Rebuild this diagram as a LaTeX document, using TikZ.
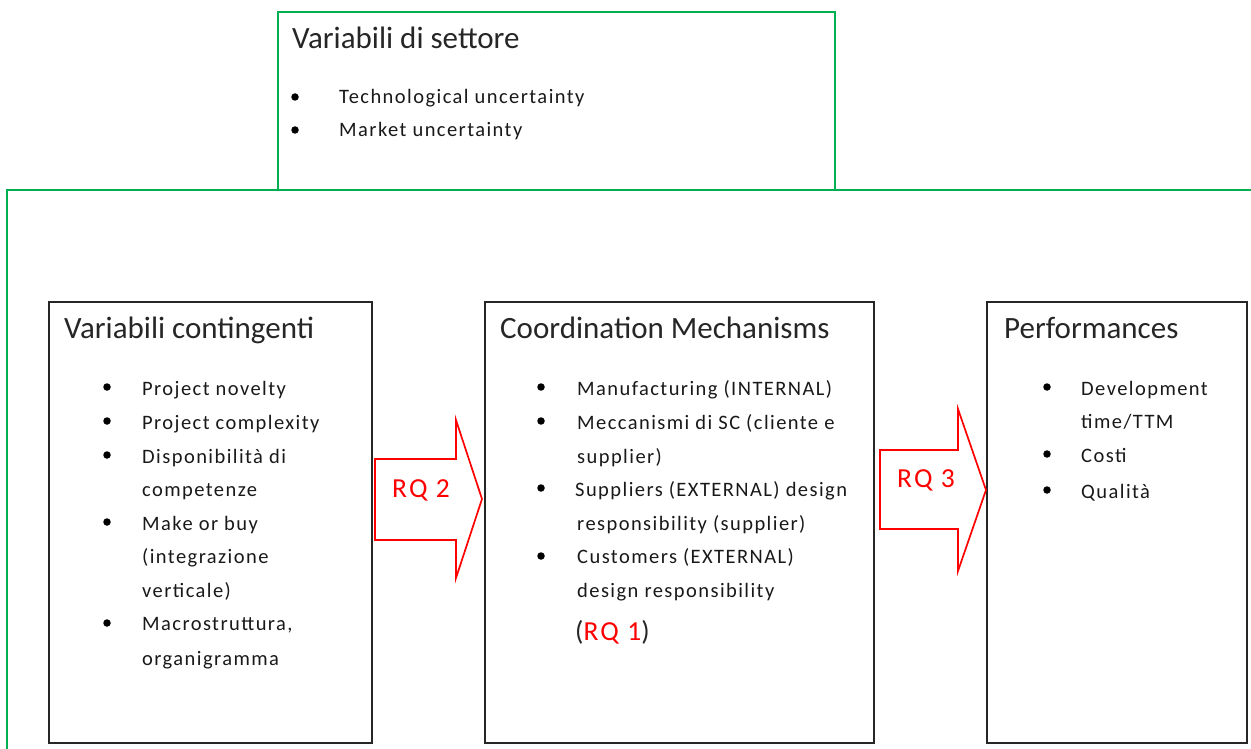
\documentclass[tikz,border=0pt]{standalone}
\usepackage{fontspec}
\setmainfont{Carlito}
\begin{document}
\begin{tikzpicture}[x=1pt,y=-1pt,
  frame/.style={line width=1.6pt},
  panel/.style={draw=black!85, line width=2pt},
  flow/.style={draw=red, line width=1.7pt, line join=miter},
  heading/.style={anchor=base west, inner sep=0pt, font=\fontsize{31}{34}\selectfont, text=black!85},
  item/.style={anchor=base west, inner sep=0pt, font=\fontsize{20.5}{24}\selectfont\addfontfeature{LetterSpace=7}, text=black!90},
  dot/.style={circle, fill=black, inner sep=0pt, minimum size=7.5pt},
  rq/.style={anchor=base west, inner sep=0pt, font=\fontsize{27.5}{30}\selectfont\addfontfeature{LetterSpace=8}, text=red}]
\useasboundingbox (0,0) rectangle (1251,749);
\definecolor{officegreen}{RGB}{0,176,80}
% outer frames
\draw[frame, draw=officegreen] (278,190) -- (278,12) -- (835,12) -- (835,190);
\draw[frame, draw=officegreen] (1251,190) -- (7,190) -- (7,749);

% sector variables
\node[heading] (ts) at (292,49) {Variabili di settore};
\node[dot] (tb1) at (295,97) {};
\node[item] (t1) at (339,104) {Technological uncertainty};
\node[dot] (tb2) at (295,130) {};
\node[item] (t2) at (339,137) {Market uncertainty};

% three panels
\draw[panel] (49,302) rectangle (372,743);
\draw[panel] (485,302) rectangle (874,743);
\draw[panel] (987,302) rectangle (1247,743);

% contingent variables
\node[heading] (h1) at (64,338) {Variabili contingenti};
\foreach \y/\n in {387/a,421/b,455/c,522/d,623/e}
  \node[dot] (b1\n) at (107,\y) {};
\node[item] (l11) at (142,395) {Project novelty};
\node[item] (l12) at (142,429) {Project complexity};
\node[item] (l13) at (142,463) {Disponibilità di};
\node[item] (l14) at (142,496) {competenze};
\node[item] (l15) at (142,530) {Make or buy};
\node[item] (l16) at (142,563) {(integrazione};
\node[item] (l17) at (142,597) {verticale)};
\node[item] (l18) at (142,630) {Macrostruttura,};
\node[item] (l19) at (142,665) {organigramma};

% coordination mechanisms
\node[heading] (h2) at (500,338) {Coordination Mechanisms};
\foreach \y/\n in {387/a,421/b,488/c,556/d}
  \node[dot] (b2\n) at (541,\y) {};
\node[item] (l21) at (577,395) {Manufacturing (INTERNAL)};
\node[item] (l22) at (577,429) {Meccanismi di SC (cliente e};
\node[item] (l23) at (577,463) {supplier)};
\node[item] (l24) at (575,496) {Suppliers (EXTERNAL) design};
\node[item] (l25) at (577,530) {responsibility (supplier)};
\node[item] (l26) at (577,563) {Customers (EXTERNAL)};
\node[item] (l27) at (577,597) {design responsibility};
\node[rq, text=black!85] (l28) at (575,640) {(\textcolor{red}{RQ 1})};

% performances
\node[heading] (h3) at (1004,338) {Performances};
\foreach \y/\n in {387/a,454/b,490/c}
  \node[dot] (b3\n) at (1047,\y) {};
\node[item] (l31) at (1081,395) {Development};
\node[item] (l32) at (1081,428) {time/TTM};
\node[item] (l33) at (1081,462) {Costi};
\node[item] (l34) at (1081,498) {Qualità};

% block arrows between panels
\draw[flow] (375,459) -- (456,459) -- (456,420) -- (482,499) -- (456,578) -- (456,540) -- (375,540) -- cycle;
\node[rq] (rq2) at (392,497) {RQ 2};
\draw[flow] (880,450) -- (958,450) -- (958,409) -- (986,490) -- (958,571) -- (958,529) -- (880,529) -- cycle;
\node[rq] (rq3) at (897,487) {RQ 3};
\end{tikzpicture}
\end{document}
